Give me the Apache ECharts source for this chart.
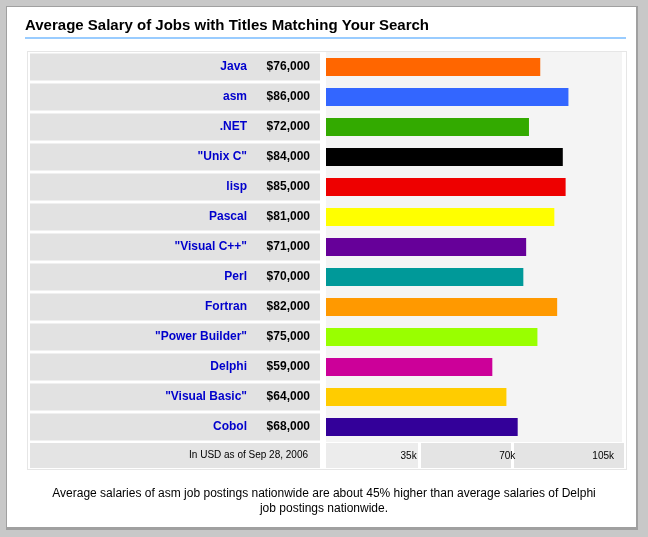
<!DOCTYPE html>
<html>
<head>
<meta charset="utf-8">
<script src="https://cdn.jsdelivr.net/npm/echarts@6/dist/echarts.min.js"></script>
<style>
  html, body { margin: 0; padding: 0; background: #fff; }
  #main { width: 648px; height: 537px; }
</style>
</head>
<body>
<div id="main"></div>
<script>
(function () {
    var jobs = ['Java', 'asm', '.NET', '"Unix C"', 'lisp', 'Pascal', '"Visual C++"', 'Perl',
        'Fortran', '"Power Builder"', 'Delphi', '"Visual Basic"', 'Cobol'];
    var salaries = [76000, 86000, 72000, 84000, 85000, 81000, 71000, 70000, 82000, 75000, 59000, 64000, 68000];
    var colors = ['#ff6600', '#3366ff', '#33aa00', '#000000', '#ee0000', '#ffff00', '#660099', '#009999',
        '#ff9900', '#99ff00', '#cc0099', '#ffcc00', '#330099'];
    var tickLabels = { 35000: '35k', 70000: '70k', 105000: '105k' };

    var myChart = echarts.init(document.getElementById('main'));
    var font = 'Liberation Sans, Arial, sans-serif';

    function money(v) {
        return '$' + String(v).replace(/\B(?=(\d{3})+(?!\d))/g, ',');
    }

    var option = {
        animation: false,
        backgroundColor: '#fff',
        graphic: [
            // outer shadowed frame
            { type: 'rect', shape: { x: 0, y: 0, width: 648, height: 537 }, style: { fill: '#c8c8c8' }, z: -10 },
            { type: 'rect', shape: { x: 6, y: 6, width: 632, height: 524 }, style: { fill: '#a0a0a0' }, z: -9 },
            { type: 'rect', shape: { x: 7, y: 7, width: 629, height: 520 }, style: { fill: '#fff' }, z: -8 },
            { type: 'text', left: 25, top: 18, style: { text: 'Average Salary of Jobs with Titles Matching Your Search', font: 'bold 15px ' + font, fill: '#000' } },
            { type: 'rect', shape: { x: 25, y: 37, width: 601, height: 2 }, style: { fill: '#99ccff' } },
            { type: 'rect', shape: { x: 27.5, y: 51.5, width: 599, height: 418 }, style: { fill: 'none', stroke: '#ccc', lineDash: [1, 1] }, z: -5 },
            { type: 'rect', shape: { x: 326, y: 52, width: 30, height: 390 }, style: { fill: '#d4d4d4' }, z: -4 },
            { type: 'rect', shape: { x: 30, y: 443, width: 290, height: 25 }, style: { fill: '#e4e4e4' }, z: -4 },
            { type: 'rect', shape: { x: 326, y: 443, width: 92, height: 25 }, style: { fill: '#ececec' }, z: -4 },
            { type: 'rect', shape: { x: 421, y: 443, width: 90, height: 25 }, style: { fill: '#e4e4e4' }, z: -4 },
            { type: 'rect', shape: { x: 514, y: 443, width: 110, height: 25 }, style: { fill: '#e4e4e4' }, z: -4 },
            { type: 'text', style: { x: 308, y: 450, text: 'In USD as of Sep 28, 2006', font: '10px ' + font, fill: '#000', align: 'right' } },
            { type: 'text', style: { x: 324, y: 486, text: 'Average salaries of asm job postings nationwide are about 45% higher than average salaries of Delphi\njob postings nationwide.', font: '12px ' + font, fill: '#000', align: 'center', lineHeight: 15 } }
        ],
        grid: [
            { left: 30, width: 290, top: 52, height: 390 },
            { left: 326, width: 296, top: 52, height: 390, show: true, backgroundColor: '#f4f4f4', borderWidth: 0 }
        ],
        xAxis: [
            { gridIndex: 0, type: 'value', min: 0, max: 1, show: false },
            {
                gridIndex: 1, type: 'value', min: 0, max: 105000, interval: 35000,
                axisLine: { show: false }, axisTick: { show: false }, splitLine: { show: false },
                axisLabel: {
                    margin: 9, align: 'right', padding: [0, 8, 0, 0],
                    color: '#000', fontFamily: font, fontSize: 10,
                    formatter: function (v) { return tickLabels[v] || ''; }
                }
            }
        ],
        yAxis: [
            { gridIndex: 0, type: 'category', data: jobs, inverse: true, show: false },
            { gridIndex: 1, type: 'category', data: jobs, inverse: true, show: false }
        ],
        series: [
            {
                type: 'bar', xAxisIndex: 0, yAxisIndex: 0, barWidth: 27, silent: true,
                data: jobs.map(function () { return 1; }),
                itemStyle: { color: '#e2e2e2' },
                label: {
                    show: true, position: 'insideRight', distance: 10,
                    formatter: function (p) { return '{n|' + p.name + '}{v|' + money(salaries[p.dataIndex]) + '}'; },
                    rich: {
                        n: { color: '#0000cc', fontWeight: 'bold', fontSize: 12, fontFamily: font, align: 'right' },
                        v: { color: '#000', fontWeight: 'bold', fontSize: 12, fontFamily: font, width: 63, align: 'right' }
                    }
                }
            },
            {
                type: 'bar', xAxisIndex: 1, yAxisIndex: 1, barWidth: 18,
                data: salaries.map(function (v, i) { return { value: v, itemStyle: { color: colors[i] } }; })
            }
        ]
    };
    myChart.setOption(option);
})();
</script>
</body>
</html>
